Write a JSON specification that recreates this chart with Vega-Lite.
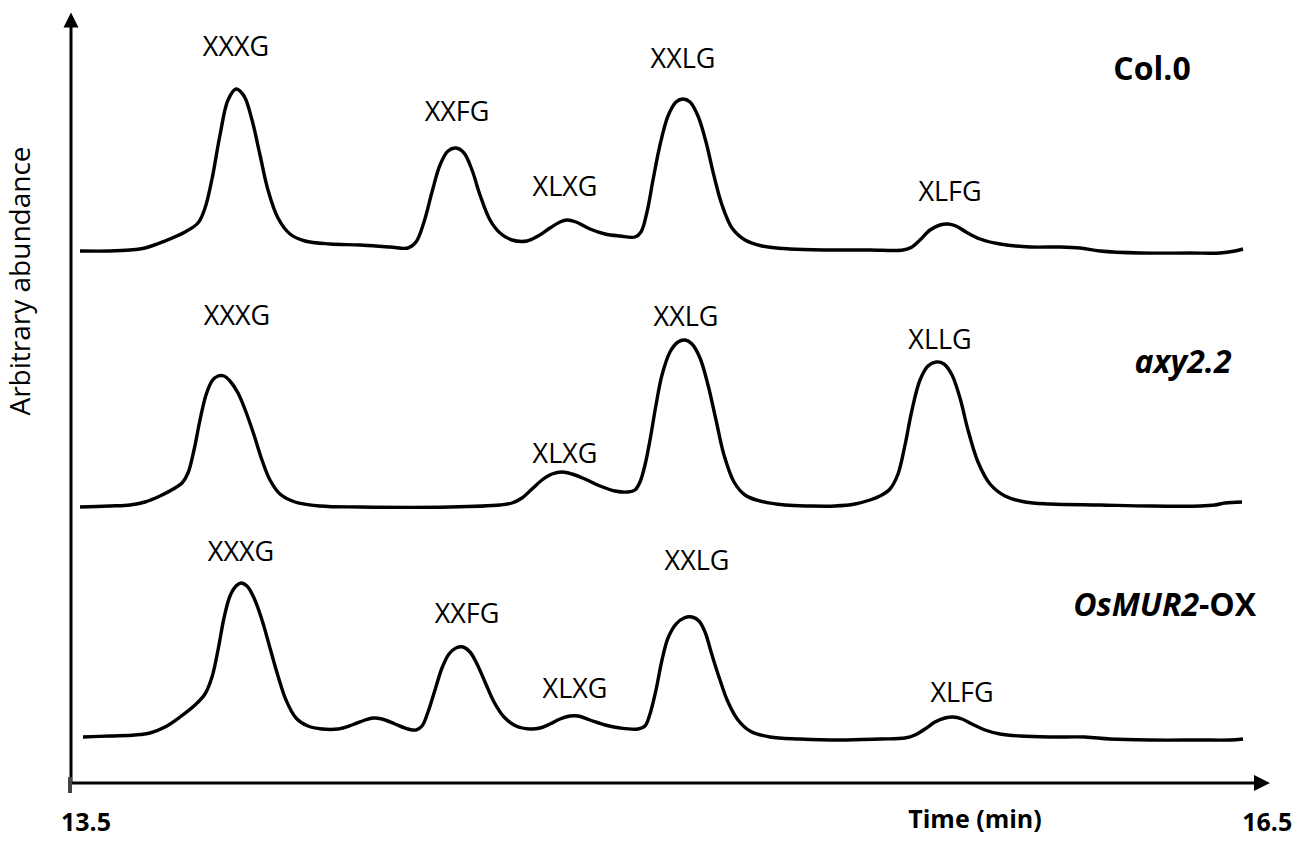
{
  "$schema": "https://vega.github.io/schema/vega-lite/v6.json",
  "width": 1308,
  "height": 841,
  "padding": 0,
  "autosize": {"type": "fit", "contains": "padding"},
  "background": "white",
  "config": {"view": {"stroke": null}, "font": "Open Sans"},
  "datasets": {
    "traces": [
      {"sample":"Col.0","time":13.525,"abundance":590},{"sample":"Col.0","time":13.6,"abundance":590},{"sample":"Col.0","time":13.65,"abundance":591},{"sample":"Col.0","time":13.6875,"abundance":593},{"sample":"Col.0","time":13.7375,"abundance":600},{"sample":"Col.0","time":13.7875,"abundance":609},{"sample":"Col.0","time":13.82,"abundance":618},{"sample":"Col.0","time":13.8375,"abundance":633},{"sample":"Col.0","time":13.855,"abundance":662},{"sample":"Col.0","time":13.875,"abundance":706},{"sample":"Col.0","time":13.895,"abundance":741},{"sample":"Col.0","time":13.915,"abundance":752},{"sample":"Col.0","time":13.935,"abundance":745},{"sample":"Col.0","time":13.955,"abundance":721},{"sample":"Col.0","time":13.975,"abundance":686},{"sample":"Col.0","time":13.995,"abundance":651},{"sample":"Col.0","time":14.02,"abundance":623},{"sample":"Col.0","time":14.05,"abundance":607},{"sample":"Col.0","time":14.0875,"abundance":600},{"sample":"Col.0","time":14.15,"abundance":597},{"sample":"Col.0","time":14.225,"abundance":596},{"sample":"Col.0","time":14.3,"abundance":594},{"sample":"Col.0","time":14.345,"abundance":593},{"sample":"Col.0","time":14.365,"abundance":599},{"sample":"Col.0","time":14.385,"abundance":619},{"sample":"Col.0","time":14.405,"abundance":649},{"sample":"Col.0","time":14.425,"abundance":676},{"sample":"Col.0","time":14.445,"abundance":690},{"sample":"Col.0","time":14.465,"abundance":693},{"sample":"Col.0","time":14.485,"abundance":688},{"sample":"Col.0","time":14.505,"abundance":671},{"sample":"Col.0","time":14.525,"abundance":646},{"sample":"Col.0","time":14.55,"abundance":621},{"sample":"Col.0","time":14.575,"abundance":608},{"sample":"Col.0","time":14.605,"abundance":601},{"sample":"Col.0","time":14.6425,"abundance":600},{"sample":"Col.0","time":14.67,"abundance":605},{"sample":"Col.0","time":14.7,"abundance":613},{"sample":"Col.0","time":14.725,"abundance":619},{"sample":"Col.0","time":14.7425,"abundance":621},{"sample":"Col.0","time":14.765,"abundance":619},{"sample":"Col.0","time":14.8,"abundance":612},{"sample":"Col.0","time":14.8375,"abundance":607},{"sample":"Col.0","time":14.875,"abundance":605},{"sample":"Col.0","time":14.9125,"abundance":604},{"sample":"Col.0","time":14.9275,"abundance":609},{"sample":"Col.0","time":14.9425,"abundance":629},{"sample":"Col.0","time":14.9575,"abundance":661},{"sample":"Col.0","time":14.975,"abundance":696},{"sample":"Col.0","time":14.995,"abundance":725},{"sample":"Col.0","time":15.015,"abundance":739},{"sample":"Col.0","time":15.0325,"abundance":742},{"sample":"Col.0","time":15.05,"abundance":739},{"sample":"Col.0","time":15.07,"abundance":725},{"sample":"Col.0","time":15.09,"abundance":699},{"sample":"Col.0","time":15.11,"abundance":665},{"sample":"Col.0","time":15.13,"abundance":636},{"sample":"Col.0","time":15.155,"abundance":613},{"sample":"Col.0","time":15.1875,"abundance":601},{"sample":"Col.0","time":15.23,"abundance":595},{"sample":"Col.0","time":15.3,"abundance":592},{"sample":"Col.0","time":15.4,"abundance":591},{"sample":"Col.0","time":15.5,"abundance":591},{"sample":"Col.0","time":15.5825,"abundance":591},{"sample":"Col.0","time":15.605,"abundance":594},{"sample":"Col.0","time":15.625,"abundance":601},{"sample":"Col.0","time":15.65,"abundance":611},{"sample":"Col.0","time":15.675,"abundance":616},{"sample":"Col.0","time":15.695,"abundance":617},{"sample":"Col.0","time":15.715,"abundance":615},{"sample":"Col.0","time":15.74,"abundance":609},{"sample":"Col.0","time":15.775,"abundance":602},{"sample":"Col.0","time":15.825,"abundance":597},{"sample":"Col.0","time":15.9,"abundance":594},{"sample":"Col.0","time":15.975,"abundance":594},{"sample":"Col.0","time":16.025,"abundance":593},{"sample":"Col.0","time":16.075,"abundance":590},{"sample":"Col.0","time":16.175,"abundance":588},{"sample":"Col.0","time":16.3,"abundance":588},{"sample":"Col.0","time":16.375,"abundance":588},{"sample":"Col.0","time":16.4125,"abundance":590},{"sample":"Col.0","time":16.4325,"abundance":592},

      {"sample":"axy2.2","time":13.525,"abundance":334},{"sample":"axy2.2","time":13.6,"abundance":335},{"sample":"axy2.2","time":13.65,"abundance":336},{"sample":"axy2.2","time":13.6875,"abundance":339},{"sample":"axy2.2","time":13.725,"abundance":345},{"sample":"axy2.2","time":13.7625,"abundance":353},{"sample":"axy2.2","time":13.78,"abundance":358},{"sample":"axy2.2","time":13.795,"abundance":368},{"sample":"axy2.2","time":13.81,"abundance":391},{"sample":"axy2.2","time":13.825,"abundance":421},{"sample":"axy2.2","time":13.84,"abundance":446},{"sample":"axy2.2","time":13.855,"abundance":460},{"sample":"axy2.2","time":13.87,"abundance":465},{"sample":"axy2.2","time":13.885,"abundance":465},{"sample":"axy2.2","time":13.9,"abundance":460},{"sample":"axy2.2","time":13.92,"abundance":448},{"sample":"axy2.2","time":13.94,"abundance":429},{"sample":"axy2.2","time":13.96,"abundance":406},{"sample":"axy2.2","time":13.98,"abundance":381},{"sample":"axy2.2","time":14.0,"abundance":361},{"sample":"axy2.2","time":14.025,"abundance":347},{"sample":"axy2.2","time":14.0625,"abundance":339},{"sample":"axy2.2","time":14.125,"abundance":335},{"sample":"axy2.2","time":14.225,"abundance":334},{"sample":"axy2.2","time":14.45,"abundance":334},{"sample":"axy2.2","time":14.575,"abundance":336},{"sample":"axy2.2","time":14.605,"abundance":338},{"sample":"axy2.2","time":14.63,"abundance":343},{"sample":"axy2.2","time":14.655,"abundance":352},{"sample":"axy2.2","time":14.68,"abundance":361},{"sample":"axy2.2","time":14.705,"abundance":367},{"sample":"axy2.2","time":14.73,"abundance":369},{"sample":"axy2.2","time":14.755,"abundance":367},{"sample":"axy2.2","time":14.7875,"abundance":362},{"sample":"axy2.2","time":14.825,"abundance":355},{"sample":"axy2.2","time":14.8625,"abundance":350},{"sample":"axy2.2","time":14.895,"abundance":349},{"sample":"axy2.2","time":14.9125,"abundance":351},{"sample":"axy2.2","time":14.925,"abundance":359},{"sample":"axy2.2","time":14.9375,"abundance":376},{"sample":"axy2.2","time":14.95,"abundance":401},{"sample":"axy2.2","time":14.965,"abundance":436},{"sample":"axy2.2","time":14.98,"abundance":466},{"sample":"axy2.2","time":15.0,"abundance":489},{"sample":"axy2.2","time":15.02,"abundance":499},{"sample":"axy2.2","time":15.0375,"abundance":501},{"sample":"axy2.2","time":15.055,"abundance":497},{"sample":"axy2.2","time":15.075,"abundance":483},{"sample":"axy2.2","time":15.095,"abundance":456},{"sample":"axy2.2","time":15.115,"abundance":421},{"sample":"axy2.2","time":15.135,"abundance":386},{"sample":"axy2.2","time":15.16,"abundance":359},{"sample":"axy2.2","time":15.1875,"abundance":346},{"sample":"axy2.2","time":15.225,"abundance":340},{"sample":"axy2.2","time":15.2875,"abundance":336},{"sample":"axy2.2","time":15.35,"abundance":335},{"sample":"axy2.2","time":15.4125,"abundance":335},{"sample":"axy2.2","time":15.4625,"abundance":337},{"sample":"axy2.2","time":15.5,"abundance":341},{"sample":"axy2.2","time":15.525,"abundance":345},{"sample":"axy2.2","time":15.55,"abundance":352},{"sample":"axy2.2","time":15.57,"abundance":367},{"sample":"axy2.2","time":15.5875,"abundance":396},{"sample":"axy2.2","time":15.605,"abundance":431},{"sample":"axy2.2","time":15.625,"abundance":461},{"sample":"axy2.2","time":15.645,"abundance":475},{"sample":"axy2.2","time":15.665,"abundance":479},{"sample":"axy2.2","time":15.685,"abundance":477},{"sample":"axy2.2","time":15.705,"abundance":466},{"sample":"axy2.2","time":15.725,"abundance":443},{"sample":"axy2.2","time":15.745,"abundance":411},{"sample":"axy2.2","time":15.77,"abundance":379},{"sample":"axy2.2","time":15.8,"abundance":357},{"sample":"axy2.2","time":15.8375,"abundance":345},{"sample":"axy2.2","time":15.8875,"abundance":339},{"sample":"axy2.2","time":15.95,"abundance":337},{"sample":"axy2.2","time":16.075,"abundance":336},{"sample":"axy2.2","time":16.2,"abundance":335},{"sample":"axy2.2","time":16.325,"abundance":335},{"sample":"axy2.2","time":16.3625,"abundance":336},{"sample":"axy2.2","time":16.3875,"abundance":338},{"sample":"axy2.2","time":16.43,"abundance":339},

      {"sample":"OsMUR2-OX","time":13.5325,"abundance":104},{"sample":"OsMUR2-OX","time":13.6,"abundance":105},{"sample":"OsMUR2-OX","time":13.6625,"abundance":106},{"sample":"OsMUR2-OX","time":13.7,"abundance":108},{"sample":"OsMUR2-OX","time":13.7375,"abundance":114},{"sample":"OsMUR2-OX","time":13.775,"abundance":124},{"sample":"OsMUR2-OX","time":13.8125,"abundance":136},{"sample":"OsMUR2-OX","time":13.8375,"abundance":147},{"sample":"OsMUR2-OX","time":13.855,"abundance":164},{"sample":"OsMUR2-OX","time":13.87,"abundance":191},{"sample":"OsMUR2-OX","time":13.885,"abundance":223},{"sample":"OsMUR2-OX","time":13.9,"abundance":245},{"sample":"OsMUR2-OX","time":13.915,"abundance":255},{"sample":"OsMUR2-OX","time":13.9275,"abundance":258},{"sample":"OsMUR2-OX","time":13.9425,"abundance":255},{"sample":"OsMUR2-OX","time":13.96,"abundance":243},{"sample":"OsMUR2-OX","time":13.98,"abundance":221},{"sample":"OsMUR2-OX","time":14.0,"abundance":193},{"sample":"OsMUR2-OX","time":14.02,"abundance":165},{"sample":"OsMUR2-OX","time":14.04,"abundance":141},{"sample":"OsMUR2-OX","time":14.065,"abundance":123},{"sample":"OsMUR2-OX","time":14.095,"abundance":115},{"sample":"OsMUR2-OX","time":14.13,"abundance":112},{"sample":"OsMUR2-OX","time":14.17,"abundance":112},{"sample":"OsMUR2-OX","time":14.205,"abundance":116},{"sample":"OsMUR2-OX","time":14.2375,"abundance":121},{"sample":"OsMUR2-OX","time":14.2575,"abundance":123},{"sample":"OsMUR2-OX","time":14.28,"abundance":122},{"sample":"OsMUR2-OX","time":14.3125,"abundance":117},{"sample":"OsMUR2-OX","time":14.345,"abundance":112},{"sample":"OsMUR2-OX","time":14.365,"abundance":111},{"sample":"OsMUR2-OX","time":14.38,"abundance":115},{"sample":"OsMUR2-OX","time":14.395,"abundance":129},{"sample":"OsMUR2-OX","time":14.4125,"abundance":151},{"sample":"OsMUR2-OX","time":14.43,"abundance":173},{"sample":"OsMUR2-OX","time":14.4475,"abundance":187},{"sample":"OsMUR2-OX","time":14.465,"abundance":193},{"sample":"OsMUR2-OX","time":14.4825,"abundance":194},{"sample":"OsMUR2-OX","time":14.5,"abundance":189},{"sample":"OsMUR2-OX","time":14.5175,"abundance":177},{"sample":"OsMUR2-OX","time":14.5375,"abundance":159},{"sample":"OsMUR2-OX","time":14.56,"abundance":139},{"sample":"OsMUR2-OX","time":14.585,"abundance":124},{"sample":"OsMUR2-OX","time":14.615,"abundance":115},{"sample":"OsMUR2-OX","time":14.65,"abundance":112},{"sample":"OsMUR2-OX","time":14.675,"abundance":113},{"sample":"OsMUR2-OX","time":14.7,"abundance":117},{"sample":"OsMUR2-OX","time":14.725,"abundance":122},{"sample":"OsMUR2-OX","time":14.75,"abundance":125},{"sample":"OsMUR2-OX","time":14.77,"abundance":125},{"sample":"OsMUR2-OX","time":14.8,"abundance":121},{"sample":"OsMUR2-OX","time":14.8375,"abundance":116},{"sample":"OsMUR2-OX","time":14.875,"abundance":113},{"sample":"OsMUR2-OX","time":14.92,"abundance":112},{"sample":"OsMUR2-OX","time":14.9375,"abundance":115},{"sample":"OsMUR2-OX","time":14.95,"abundance":127},{"sample":"OsMUR2-OX","time":14.965,"abundance":151},{"sample":"OsMUR2-OX","time":14.98,"abundance":181},{"sample":"OsMUR2-OX","time":14.995,"abundance":203},{"sample":"OsMUR2-OX","time":15.015,"abundance":217},{"sample":"OsMUR2-OX","time":15.035,"abundance":223},{"sample":"OsMUR2-OX","time":15.055,"abundance":224},{"sample":"OsMUR2-OX","time":15.0725,"abundance":220},{"sample":"OsMUR2-OX","time":15.0875,"abundance":209},{"sample":"OsMUR2-OX","time":15.105,"abundance":186},{"sample":"OsMUR2-OX","time":15.125,"abundance":161},{"sample":"OsMUR2-OX","time":15.145,"abundance":139},{"sample":"OsMUR2-OX","time":15.17,"abundance":121},{"sample":"OsMUR2-OX","time":15.2,"abundance":110},{"sample":"OsMUR2-OX","time":15.25,"abundance":104},{"sample":"OsMUR2-OX","time":15.325,"abundance":102},{"sample":"OsMUR2-OX","time":15.425,"abundance":101},{"sample":"OsMUR2-OX","time":15.525,"abundance":102},{"sample":"OsMUR2-OX","time":15.5875,"abundance":103},{"sample":"OsMUR2-OX","time":15.6125,"abundance":106},{"sample":"OsMUR2-OX","time":15.6375,"abundance":112},{"sample":"OsMUR2-OX","time":15.6625,"abundance":119},{"sample":"OsMUR2-OX","time":15.6875,"abundance":123},{"sample":"OsMUR2-OX","time":15.7075,"abundance":124},{"sample":"OsMUR2-OX","time":15.73,"abundance":122},{"sample":"OsMUR2-OX","time":15.755,"abundance":117},{"sample":"OsMUR2-OX","time":15.7875,"abundance":111},{"sample":"OsMUR2-OX","time":15.825,"abundance":107},{"sample":"OsMUR2-OX","time":15.875,"abundance":105},{"sample":"OsMUR2-OX","time":15.95,"abundance":104},{"sample":"OsMUR2-OX","time":16.0375,"abundance":104},{"sample":"OsMUR2-OX","time":16.1,"abundance":102},{"sample":"OsMUR2-OX","time":16.2,"abundance":101},{"sample":"OsMUR2-OX","time":16.325,"abundance":101},{"sample":"OsMUR2-OX","time":16.4,"abundance":101},{"sample":"OsMUR2-OX","time":16.4325,"abundance":102}
    ],
    "peaks": [
      {"sample":"Col.0","peak":"XXXG","time":13.915,"abundance":793},
      {"sample":"Col.0","peak":"XXFG","time":14.4675,"abundance":728},
      {"sample":"Col.0","peak":"XLXG","time":14.7375,"abundance":653},
      {"sample":"Col.0","peak":"XXLG","time":15.0325,"abundance":781},
      {"sample":"Col.0","peak":"XLFG","time":15.7,"abundance":648},
      {"sample":"axy2.2","peak":"XXXG","time":13.9175,"abundance":524},
      {"sample":"axy2.2","peak":"XLXG","time":14.7375,"abundance":386},
      {"sample":"axy2.2","peak":"XXLG","time":15.04,"abundance":523},
      {"sample":"axy2.2","peak":"XLLG","time":15.675,"abundance":500},
      {"sample":"OsMUR2-OX","peak":"XXXG","time":13.9275,"abundance":288},
      {"sample":"OsMUR2-OX","peak":"XXFG","time":14.4925,"abundance":226},
      {"sample":"OsMUR2-OX","peak":"XLXG","time":14.7625,"abundance":151},
      {"sample":"OsMUR2-OX","peak":"XXLG","time":15.0675,"abundance":279},
      {"sample":"OsMUR2-OX","peak":"XLFG","time":15.73,"abundance":147}
    ],
    "one": [{}]
  },
  "encoding": {
    "x": {"type": "quantitative", "scale": {"domain": [13.325, 16.595], "nice": false, "zero": false}, "axis": null},
    "y": {"type": "quantitative", "scale": {"domain": [0, 841], "nice": false, "zero": false}, "axis": null}
  },
  "layer": [
    {
      "data": {"name": "traces"},
      "mark": {"type": "line", "interpolate": "catmull-rom", "color": "black", "strokeWidth": 3.4},
      "encoding": {
        "x": {"field": "time", "type": "quantitative"},
        "y": {"field": "abundance", "type": "quantitative"},
        "detail": {"field": "sample"}
      }
    },
    {
      "data": {"name": "peaks"},
      "mark": {"type": "text", "fontSize": 27, "baseline": "middle", "align": "center", "color": "black", "font": "Open Sans"},
      "encoding": {
        "x": {"field": "time", "type": "quantitative"},
        "y": {"field": "abundance", "type": "quantitative"},
        "text": {"field": "peak"}
      }
    },
    {
      "data": {"name": "one"},
      "mark": {"type": "rule", "color": "black", "strokeWidth": 3},
      "encoding": {"x": {"datum": 13.5025}, "y": {"datum": 58}, "y2": {"datum": 815}}
    },
    {
      "data": {"name": "one"},
      "mark": {"type": "rule", "color": "black", "strokeWidth": 3},
      "encoding": {"x": {"datum": 13.5025}, "x2": {"datum": 16.4625}, "y": {"datum": 58}}
    },
    {
      "data": {"name": "one"},
      "mark": {"type": "rule", "color": "#444", "strokeWidth": 4},
      "encoding": {"x": {"datum": 13.5}, "y": {"datum": 48}, "y2": {"datum": 64}}
    },
    {
      "data": {"name": "one"},
      "mark": {"type": "point", "shape": "M-1,1L1,1L0,-1Z", "filled": true, "color": "black", "opacity": 1, "size": 225, "strokeWidth": 0},
      "encoding": {"x": {"datum": 13.5025}, "y": {"datum": 821}}
    },
    {
      "data": {"name": "one"},
      "mark": {"type": "point", "shape": "M-1,-1L1,0L-1,1Z", "filled": true, "color": "black", "opacity": 1, "size": 256, "strokeWidth": 0},
      "encoding": {"x": {"datum": 16.48}, "y": {"datum": 58}}
    },
    {
      "data": {"name": "one"},
      "mark": {"type": "text", "text": "13.5", "fontSize": 25, "fontWeight": "bold", "baseline": "middle", "align": "center", "font": "Open Sans"},
      "encoding": {"x": {"datum": 13.54}, "y": {"datum": 18}}
    },
    {
      "data": {"name": "one"},
      "mark": {"type": "text", "text": "16.5", "fontSize": 25, "fontWeight": "bold", "baseline": "middle", "align": "center", "font": "Open Sans"},
      "encoding": {"x": {"datum": 16.493}, "y": {"datum": 18}}
    },
    {
      "data": {"name": "one"},
      "mark": {"type": "text", "text": "Time (min)", "fontSize": 25, "fontWeight": "bold", "baseline": "middle", "align": "center", "font": "Open Sans"},
      "encoding": {"x": {"datum": 15.7625}, "y": {"datum": 21}}
    },
    {
      "data": {"name": "one"},
      "mark": {"type": "text", "text": "Arbitrary abundance", "fontSize": 28, "angle": 270, "baseline": "middle", "align": "center", "font": "Open Sans"},
      "encoding": {"x": {"datum": 13.381}, "y": {"datum": 560}}
    },
    {
      "data": {"name": "one"},
      "mark": {"type": "text", "text": "Col.0", "fontSize": 32, "fontWeight": "bold", "baseline": "middle", "align": "center", "font": "Open Sans"},
      "encoding": {"x": {"datum": 16.205}, "y": {"datum": 771}}
    },
    {
      "data": {"name": "one"},
      "mark": {"type": "text", "text": "axy2.2", "fontSize": 32, "fontWeight": "bold", "fontStyle": "italic", "baseline": "middle", "align": "center", "font": "Open Sans"},
      "encoding": {"x": {"datum": 16.2825}, "y": {"datum": 478}}
    },
    {
      "data": {"name": "one"},
      "mark": {"type": "text", "text": "OsMUR2", "fontSize": 32, "fontWeight": "bold", "fontStyle": "italic", "baseline": "middle", "align": "right", "font": "Open Sans"},
      "encoding": {"x": {"datum": 16.3225}, "y": {"datum": 235}}
    },
    {
      "data": {"name": "one"},
      "mark": {"type": "text", "text": "-OX", "fontSize": 32, "fontWeight": "bold", "baseline": "middle", "align": "left", "font": "Open Sans"},
      "encoding": {"x": {"datum": 16.3225}, "y": {"datum": 235}}
    }
  ]
}
